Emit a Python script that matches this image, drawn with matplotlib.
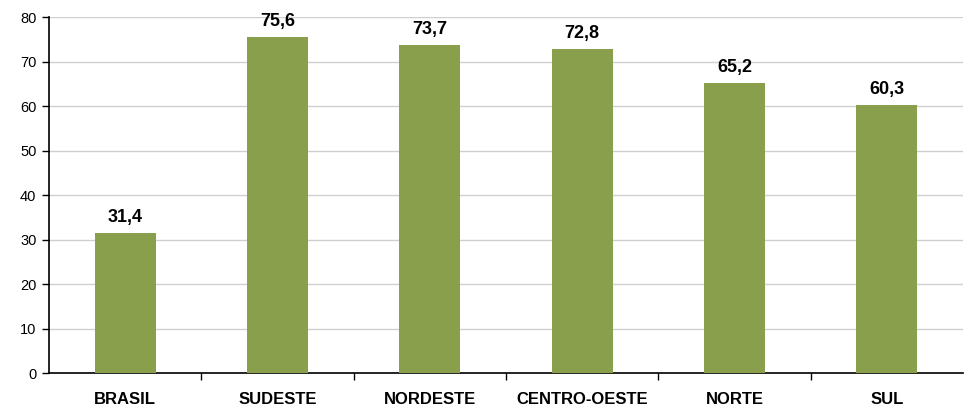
import numpy as np
import matplotlib.pyplot as plt

plt.rcParams['font.family'] = ['Liberation Sans', 'DejaVu Sans']

regioes = ["BRASIL", "SUDESTE", "NORDESTE", "CENTRO-OESTE", "NORTE", "SUL"]
valores = [31.4, 75.6, 73.7, 72.8, 65.2, 60.3]

fig = plt.figure(figsize=(9.66, 4.07), dpi=100)
ax = fig.add_axes([0.0507, 0.0835, 0.9463, 0.8745])

x = np.arange(len(regioes))
ax.bar(x, valores, width=0.4, color="#8a9f4c", zorder=3)

for xi, v in zip(x, valores):
    ax.text(xi, v + 2.5, f"{v:.1f}".replace(".", ","), ha="center", va="baseline",
            fontsize=13, fontweight="bold")

ax.set_xlim(-0.5, len(regioes) - 0.5)
ax.set_ylim(0, 80)
ax.set_yticks(range(0, 81, 10))
ax.yaxis.grid(True, color="#d0d0d0", linewidth=1, zorder=0)

ax.set_xticks(x)
ax.set_xticklabels(regioes, fontweight="bold", fontsize=12)
ax.tick_params(axis="x", length=0, pad=14)
ax.set_xticks(np.arange(0.5, len(regioes) - 1, 1), minor=True)
ax.tick_params(axis="x", which="minor", length=5, width=1, direction="out")
ax.tick_params(axis="y", length=5, width=1, labelsize=10.5, pad=4)

for s in ["top", "right"]:
    ax.spines[s].set_visible(False)
ax.spines["left"].set_linewidth(1.2)
ax.spines["bottom"].set_linewidth(1.2)

fig.savefig("out.png", dpi=100)
